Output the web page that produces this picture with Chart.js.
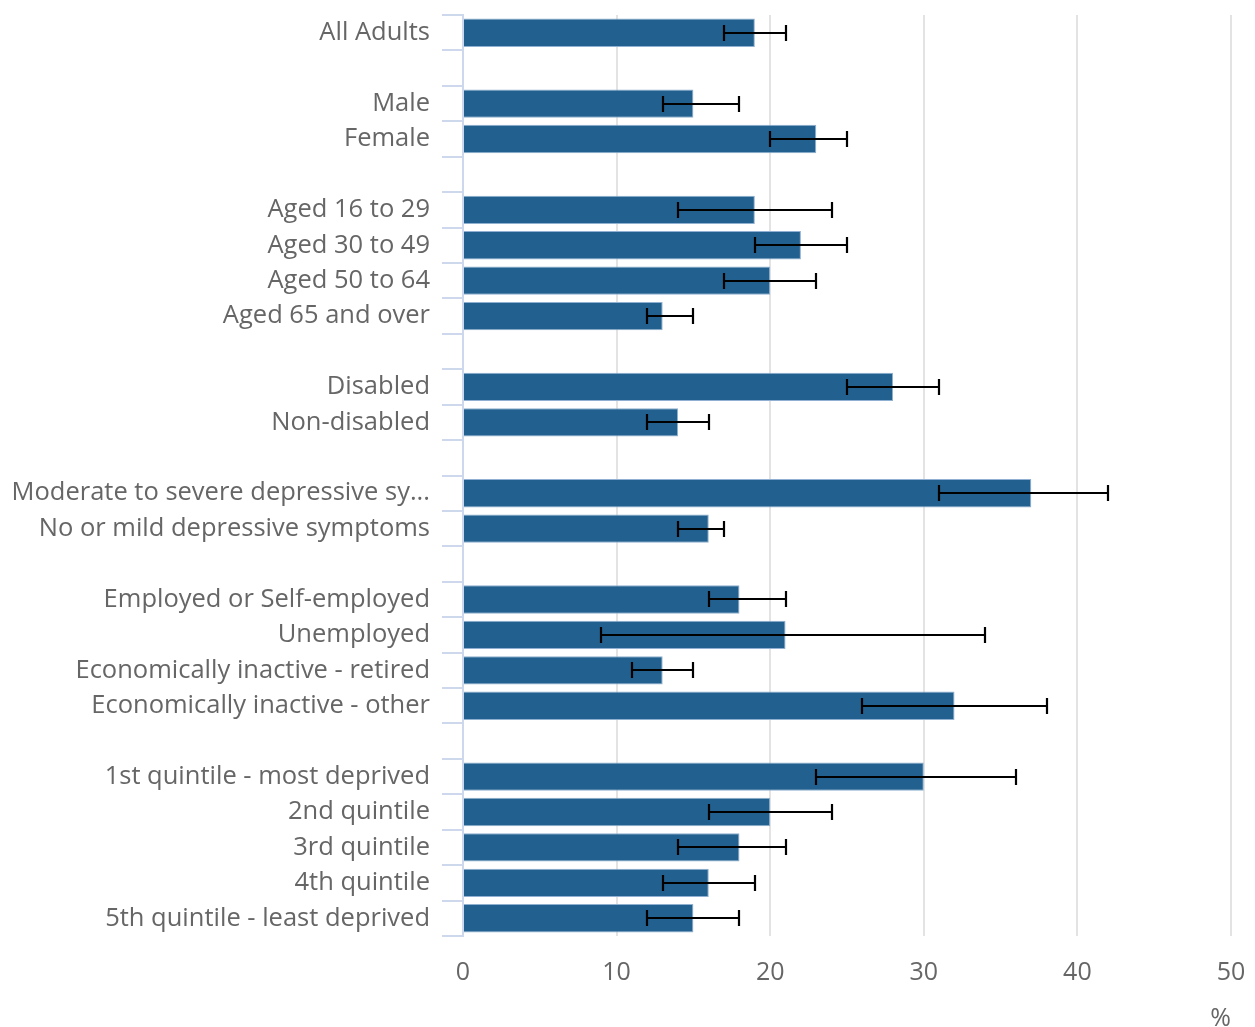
<!DOCTYPE html>
<html>
<head>
<meta charset="utf-8">
<script src="https://cdn.jsdelivr.net/npm/chart.js@4"></script>
<style>
  html, body { margin: 0; padding: 0; background: #fff; }
  #wrap { width: 1255px; height: 1027px; }
</style>
</head>
<body>
<div id="wrap"><canvas id="chart" width="1255" height="1027"></canvas></div>
<script>
/* ---------- DATA ---------- */
// empty strings are the gaps between groups
const categories = [
  "All Adults", "",
  "Male", "Female", "",
  "Aged 16 to 29", "Aged 30 to 49", "Aged 50 to 64", "Aged 65 and over", "",
  "Disabled", "Non-disabled", "",
  "Moderate to severe depressive symptoms", "No or mild depressive symptoms", "",
  "Employed or Self-employed", "Unemployed", "Economically inactive - retired", "Economically inactive - other", "",
  "1st quintile - most deprived", "2nd quintile", "3rd quintile", "4th quintile", "5th quintile - least deprived"
];

const values = [
  19, null,
  15, 23, null,
  19, 22, 20, 13, null,
  28, 14, null,
  37, 16, null,
  18, 21, 13, 32, null,
  30, 20, 18, 16, 15
];

const lower = [
  17, null,
  13, 20, null,
  14, 19, 17, 12, null,
  25, 12, null,
  31, 14, null,
  16, 9, 11, 26, null,
  23, 16, 14, 13, 12
];

const upper = [
  21, null,
  18, 25, null,
  24, 25, 23, 15, null,
  31, 16, null,
  42, 17, null,
  21, 34, 15, 38, null,
  36, 24, 21, 19, 18
];

const xTicks = [0, 10, 20, 30, 40, 50];

/* ---------- ERROR BARS ---------- */
const errorBars = {
  id: "errorBars",
  afterDatasetsDraw(chart) {
    const ctx = chart.ctx;
    const meta = chart.getDatasetMeta(0);
    const xs = chart.scales.x;
    ctx.save();
    ctx.strokeStyle = "#000";
    ctx.lineWidth = 2.2;
    meta.data.forEach((bar, i) => {
      if (lower[i] == null) return;
      const y = Math.round(bar.y);
      const x1 = Math.round(xs.getPixelForValue(lower[i]));
      const x2 = Math.round(xs.getPixelForValue(upper[i]));
      ctx.beginPath();
      ctx.moveTo(x1, y); ctx.lineTo(x2, y);
      ctx.moveTo(x1, y - 8); ctx.lineTo(x1, y + 8);
      ctx.moveTo(x2, y - 8); ctx.lineTo(x2, y + 8);
      ctx.stroke();
    });
    ctx.restore();
  }
};

/* ---------- CHART ---------- */
Chart.defaults.font.family = "'Open Sans', sans-serif";
Chart.defaults.color = "#666";

new Chart(document.getElementById("chart"), {
  type: "bar",
  data: {
    labels: categories,
    datasets: [{
      data: values,
      backgroundColor: "#22608f",
      borderColor: "#8fb0d0",
      borderWidth: 1,
      barPercentage: 0.8,
      categoryPercentage: 1
    }]
  },
  plugins: [errorBars],
  options: {
    indexAxis: "y",
    responsive: false,
    animation: false,
    devicePixelRatio: 1,
    layout: { padding: { top: 15, right: 24, left: 0, bottom: 0 } },
    plugins: {
      legend: { display: false },
      tooltip: { enabled: false }
    },
    scales: {
      x: {
        min: 0,
        max: 50,
        afterBuildTicks: scale => { scale.ticks = xTicks.map(v => ({ value: v })); },
        afterFit: scale => {
          scale.height = 91;
          scale.paddingLeft = 0;
          scale.paddingRight = 0;
        },
        grid: { color: "#e3e3e3", lineWidth: 2, drawTicks: false },
        border: { display: false },
        ticks: { font: { size: 25 }, padding: 22, color: "#666" },
        title: {
          display: true,
          text: "%",
          align: "end",
          font: { size: 25 },
          color: "#666",
          padding: { top: 14, bottom: -7 }
        }
      },
      y: {
        afterFit: scale => {
          scale.width = 463;
          scale.paddingTop = 0;
          scale.paddingBottom = 0;
        },
        grid: {
          offset: true,
          drawOnChartArea: false,
          color: "#cdd8ec",
          lineWidth: 2,
          tickLength: 21
        },
        border: { display: true, color: "#cdd8ec", width: 2 },
        ticks: {
          font: { size: 25.5 },
          padding: 12,
          color: "#666",
          autoSkip: false,
          callback: function (v) {
            const s = this.getLabelForValue(v);
            return s.length > 34 ? s.slice(0, 32) + "..." : s;
          }
        }
      }
    }
  }
});
</script>
</body>
</html>
